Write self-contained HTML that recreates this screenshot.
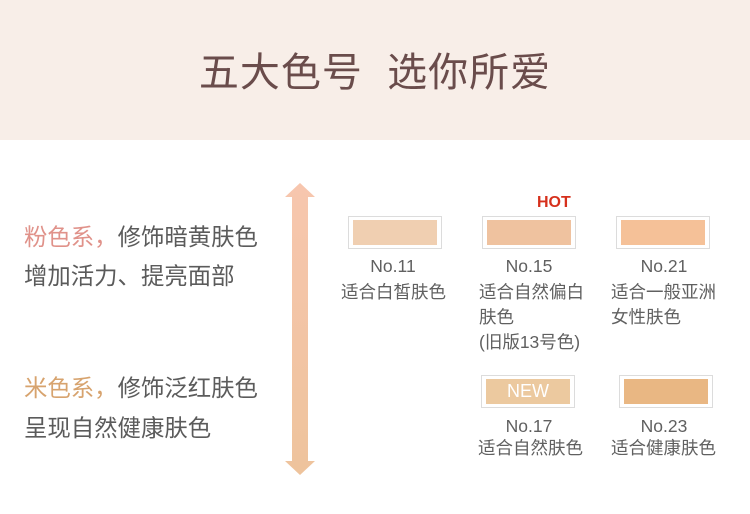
<!DOCTYPE html>
<html><head><meta charset="utf-8"><style>
*{margin:0;padding:0}
body{width:750px;height:514px;background:#fff;position:relative;overflow:hidden;font-family:"Liberation Sans","Noto Sans CJK SC",sans-serif;color:#5b5b5b}
.hdr{position:absolute;left:0;top:0;width:750px;height:140px;background:#f8eee8}
.title{position:absolute;left:0;width:750px;top:48px;text-align:center;font-size:40px;line-height:50px;color:#6a4c4b;letter-spacing:1px}
.t{position:absolute;white-space:nowrap;font-size:23.4px;line-height:30px}
.sw{position:absolute;width:92px;height:31px;border:1px solid #dcdcdc;background:#fff}
.sw div{position:absolute;left:4px;top:3px;right:4px;bottom:3px;color:#fff;font-size:18px;text-align:center;line-height:25px}
.lb{position:absolute;font-size:17.5px;line-height:25px;color:#606060;white-space:nowrap}
.c{text-align:center;width:120px}
</style></head><body>
<div class="hdr"></div>
<div class="title">五大色号&nbsp;&nbsp;选你所爱</div>

<div class="t" style="left:24px;top:222px"><span style="color:#e0928a">粉色系，</span>修饰暗黄肤色</div>
<div class="t" style="left:24px;top:261px">增加活力、提亮面部</div>
<div class="t" style="left:24px;top:373px"><span style="color:#d7a36e">米色系，</span>修饰泛红肤色</div>
<div class="t" style="left:24px;top:413px">呈现自然健康肤色</div>

<svg style="position:absolute;left:0;top:0" width="750" height="514">
<defs><linearGradient id="g" x1="0" y1="0" x2="0" y2="1">
<stop offset="0" stop-color="#f7c6ae"/><stop offset="1" stop-color="#eec39c"/></linearGradient></defs>
<path d="M300 183 L315 197 L308 197 L308 461 L315 461 L300 475 L285 461 L292 461 L292 197 L285 197 Z" fill="url(#g)"/>
</svg>

<div style="position:absolute;left:537px;top:193px;color:#d6301c;font-size:16px;line-height:20px;font-weight:bold">HOT</div>

<div class="sw" style="left:348px;top:216px"><div style="background:#f0cfb1"></div></div>
<div class="sw" style="left:482px;top:216px"><div style="background:#efc29f"></div></div>
<div class="sw" style="left:616px;top:216px"><div style="background:#f5c198"></div></div>
<div class="sw" style="left:481px;top:375px"><div style="background:#ecc99f">NEW</div></div>
<div class="sw" style="left:619px;top:375px"><div style="background:#e9b783"></div></div>

<div class="lb c" style="left:333px;top:254px">No.11</div>
<div class="lb" style="left:341px;top:280px">适合白皙肤色</div>
<div class="lb c" style="left:469px;top:254px">No.15</div>
<div class="lb" style="left:479px;top:280px">适合自然偏白<br>肤色<br>(旧版13号色)</div>
<div class="lb c" style="left:604px;top:254px">No.21</div>
<div class="lb" style="left:611px;top:280px">适合一般亚洲<br>女性肤色</div>
<div class="lb c" style="left:469px;top:414px">No.17</div>
<div class="lb" style="left:478px;top:436px">适合自然肤色</div>
<div class="lb c" style="left:604px;top:414px">No.23</div>
<div class="lb" style="left:611px;top:436px">适合健康肤色</div>
</body></html>
